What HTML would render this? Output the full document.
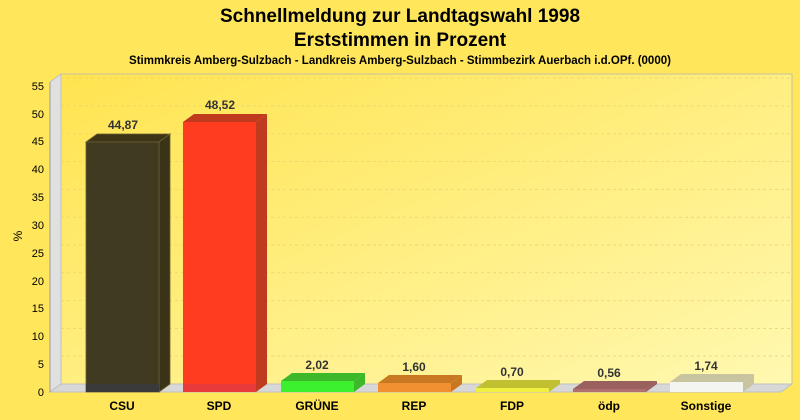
<!DOCTYPE html>
<html><head><meta charset="utf-8"><style>
body{margin:0;background:#ffe65a}
svg{display:block;font-family:"Liberation Sans",sans-serif}
</style></head><body>
<svg width="800" height="420" viewBox="0 0 800 420">
<defs>
<linearGradient id="bg" x1="0" y1="0" x2="1" y2="1">
<stop offset="0" stop-color="#ffe450"/><stop offset="1" stop-color="#fff8b0"/>
</linearGradient>
</defs>
<rect width="800" height="420" fill="#ffe65a"/>
<text x="400" y="22" text-anchor="middle" font-size="19" font-weight="bold">Schnellmeldung zur Landtagswahl 1998</text>
<text x="400" y="46" text-anchor="middle" font-size="19" font-weight="bold">Erststimmen in Prozent</text>
<text x="400" y="64" text-anchor="middle" font-size="11.5" font-weight="bold">Stimmkreis Amberg-Sulzbach - Landkreis Amberg-Sulzbach - Stimmbezirk Auerbach i.d.OPf. (0000)</text>
<rect x="61" y="74" width="731" height="310" fill="url(#bg)" stroke="#c8c0a0" stroke-width="1"/>
<polygon points="50,82 61,74 61,384 50,392" fill="#e0e0e0" stroke="#c0c0c0"/>
<polygon points="50,392 61,384 792,384 781,392" fill="#d8d8d8" stroke="#c0c0c0"/>
<g stroke="#ead27a" stroke-dasharray="3,3" stroke-width="1" opacity="0.8">
<line x1="61" x2="792" y1="356" y2="356"/><line x1="61" x2="792" y1="328.5" y2="328.5"/>
<line x1="61" x2="792" y1="300.6" y2="300.6"/><line x1="61" x2="792" y1="272.8" y2="272.8"/>
<line x1="61" x2="792" y1="245" y2="245"/><line x1="61" x2="792" y1="217.2" y2="217.2"/>
<line x1="61" x2="792" y1="189.4" y2="189.4"/><line x1="61" x2="792" y1="161.5" y2="161.5"/>
<line x1="61" x2="792" y1="133.7" y2="133.7"/><line x1="61" x2="792" y1="105.9" y2="105.9"/>
<line x1="61" x2="792" y1="78" y2="78"/>
</g>
<g font-size="11" text-anchor="end" fill="#000">
<text x="44" y="396">0</text><text x="44" y="368">5</text><text x="44" y="340">10</text>
<text x="44" y="312">15</text><text x="44" y="285">20</text><text x="44" y="257">25</text>
<text x="44" y="229">30</text><text x="44" y="201">35</text><text x="44" y="173">40</text>
<text x="44" y="145">45</text><text x="44" y="118">50</text><text x="44" y="90">55</text>
</g>
<text transform="translate(22,236) rotate(-90)" font-size="12" text-anchor="middle">%</text>
<line x1="50" y1="82" x2="50" y2="392" stroke="#999"/>
<g stroke-width="0.8">
<polygon points="86,142 97,134 170,134 159,142" fill="#3c3414" stroke="#6a6030"/>
<polygon points="159,142 170,134 170,384 159,392" fill="#3a3318" stroke="#6a6030"/>
<rect x="86" y="142" width="73" height="250" fill="#403a20" stroke="#6a6030"/>
<rect x="86" y="384" width="73" height="8" fill="#3a3a3a"/>

<polygon points="183,122 194,114 267,114 256,122" fill="#c03a1e"/>
<polygon points="256,122 267,114 267,384 256,392" fill="#c03a20"/>
<rect x="183" y="122" width="73" height="270" fill="#ff3c20"/>
<rect x="183" y="384" width="73" height="8" fill="#e83a3a"/>

<polygon points="281,381 292,373 365,373 354,381" fill="#3cb828"/>
<polygon points="354,381 365,373 365,384 354,392" fill="#3cb828"/>
<rect x="281" y="381" width="73" height="11" fill="#3cf030"/>

<polygon points="378,383 389,375 462,375 451,383" fill="#c87820"/>
<polygon points="451,383 462,375 462,384 451,392" fill="#c87820"/>
<rect x="378" y="383" width="73" height="9" fill="#f09030"/>

<polygon points="476,388 487,380 560,380 549,388" fill="#c0c030"/>
<polygon points="549,388 560,380 560,384 549,392" fill="#c0c030"/>
<rect x="476" y="388" width="73" height="4" fill="#f0f040"/>

<polygon points="573,389 584,381 657,381 646,389" fill="#9a6060"/>
<polygon points="646,389 657,381 657,384 646,392" fill="#9a6060"/>
<rect x="573" y="389" width="73" height="3" fill="#b07070"/>

<polygon points="670,382 681,374 754,374 743,382" fill="#c8c4a0"/>
<polygon points="743,382 754,374 754,384 743,392" fill="#c8c4a0"/>
<rect x="670" y="382" width="73" height="10" fill="#f4f4f0"/>
</g>
<g font-size="12" font-weight="bold" fill="#333" text-anchor="middle">
<text x="123" y="129">44,87</text><text x="220" y="109">48,52</text>
<text x="317" y="369">2,02</text><text x="414" y="371">1,60</text>
<text x="512" y="376">0,70</text><text x="609" y="377">0,56</text>
<text x="706" y="370">1,74</text>
</g>
<g font-size="12" font-weight="bold" fill="#000" text-anchor="middle">
<text x="122" y="410">CSU</text><text x="219" y="410">SPD</text><text x="317" y="410">GRÜNE</text>
<text x="414" y="410">REP</text><text x="512" y="410">FDP</text><text x="609" y="410">ödp</text>
<text x="706" y="410">Sonstige</text>
</g>
</svg>
</body></html>
